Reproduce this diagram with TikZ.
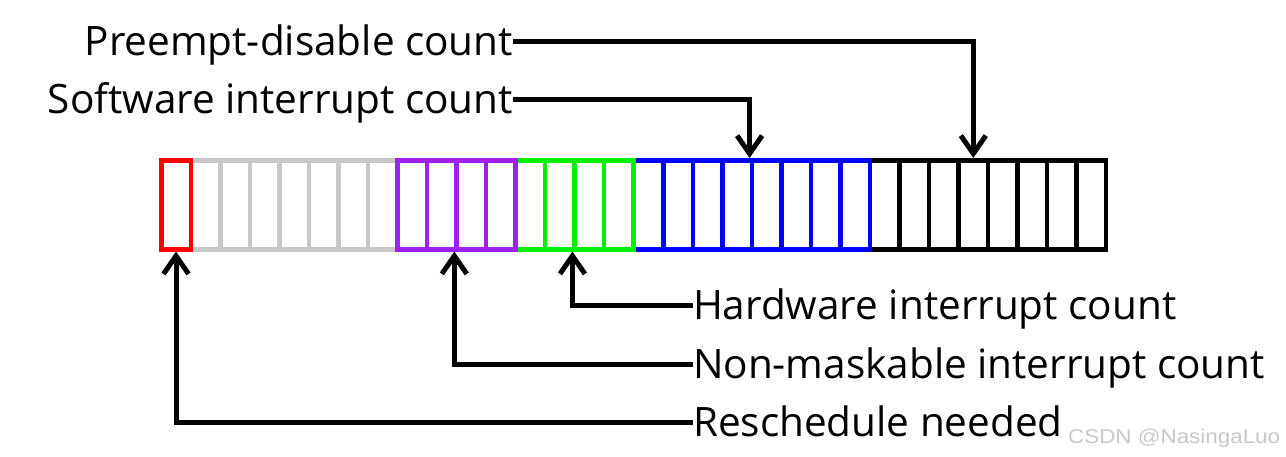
\documentclass[tikz,border=0pt]{standalone}
\usepackage{fontspec}
\setmainfont{Open Sans}
\newfontfamily\wmfont[FakeStretch=1.12]{Liberation Sans}
\usetikzlibrary{arrows.meta}
\definecolor{boxgray}{HTML}{C8C8C8}
\definecolor{boxpurple}{HTML}{A020F0}
\definecolor{boxgreen}{HTML}{00F000}
\definecolor{boxblue}{HTML}{0000FF}
\definecolor{boxred}{HTML}{FF0000}
\tikzset{
  bit/.style={draw=#1, line width=4.5pt, minimum width=29.53pt, minimum height=89pt, inner sep=0pt, anchor=north west},
  lbl/.style={inner sep=0pt, outer sep=0pt, text height=28pt, text depth=0pt, font=\fontsize{40.5}{44}\selectfont},
  arr/.style={line width=5pt, -{Straight Barb[length=18pt,width=25pt,line width=5pt]}},
  wm/.style={inner sep=0pt, text=boxgray, font=\wmfont\fontsize{20}{22}\selectfont}
}
\begin{document}
\begin{tikzpicture}[x=1pt,y=-1pt]
\useasboundingbox (0,0) rectangle (1286,456);
% gray bits 1-7
\foreach \i in {1,...,7} \node[bit=boxgray] (b\i) at ({159+29.53*\i},158) {};
% black bits 24-31
\foreach \i in {24,...,31} \node[bit=black] (b\i) at ({159+29.53*\i},158) {};
% blue bits 16-23
\foreach \i in {16,...,23} \node[bit=boxblue] (b\i) at ({159+29.53*\i},158) {};
% green bits 12-15
\foreach \i in {12,...,15} \node[bit=boxgreen] (b\i) at ({159+29.53*\i},158) {};
% purple bits 8-11
\foreach \i in {8,...,11} \node[bit=boxpurple] (b\i) at ({159+29.53*\i},158) {};
% red bit 0
\node[bit=boxred] (b0) at (159,158) {};

\node[lbl, anchor=east] (pre) at (513,41) {Preempt-disable count};
\node[lbl, anchor=east] (sw) at (513,99) {Software interrupt count};
\node[lbl, anchor=west] (hw) at (693,305) {Hardware interrupt count};
\node[lbl, anchor=west] (nmi) at (693,364) {Non-maskable interrupt count};
\node[lbl, anchor=west] (rs) at (693,422) {Reschedule needed};
\node[wm, anchor=base west] (wmk) at (1068,443) {CSDN @NasingaLuo};

\draw[arr] (pre.east) -| (b27.north);
\draw[arr] (sw.east) -| (b20.north west);
\draw[arr] (hw.west) -| (b14.south west);
\draw[arr] (nmi.west) -| (b10.south west);
\draw[arr] (rs.west) -| (b0.south);
\end{tikzpicture}
\end{document}
